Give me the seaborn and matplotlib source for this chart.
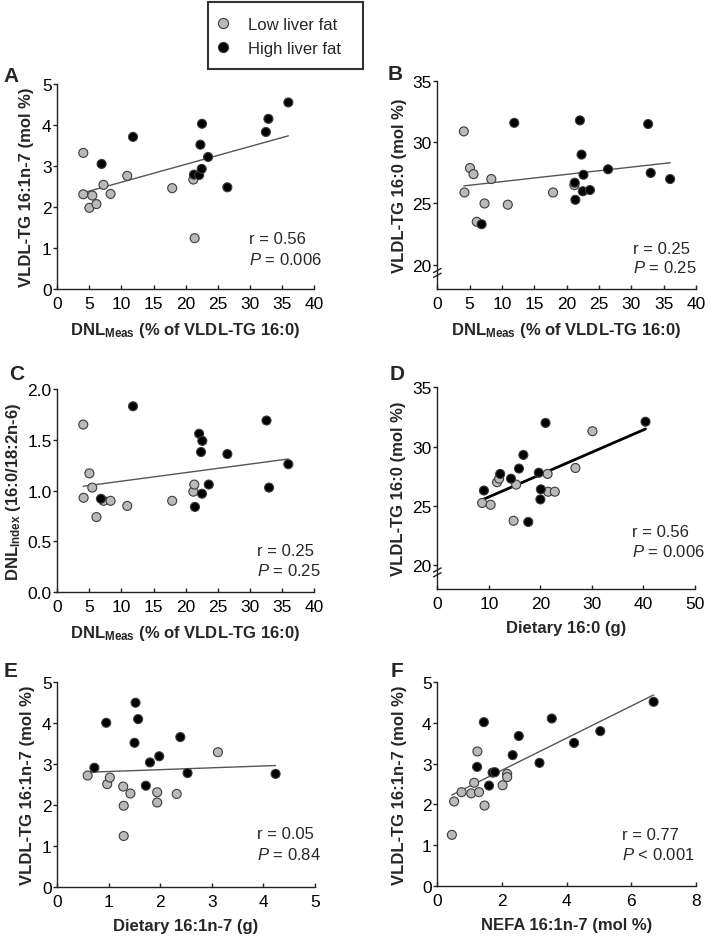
import numpy as np
import pandas as pd
import matplotlib
matplotlib.use("Agg")
import matplotlib.pyplot as plt
import seaborn as sns
from matplotlib.lines import Line2D
from matplotlib.patches import Rectangle

sns.set_theme(style="ticks")
plt.rcParams["font.family"] = ["Liberation Sans", "DejaVu Sans"]
plt.rcParams["mathtext.fontset"] = "custom"
plt.rcParams["mathtext.rm"] = "Liberation Sans"
plt.rcParams["mathtext.it"] = "Liberation Sans:italic"
plt.rcParams["mathtext.bf"] = "Liberation Sans:bold"

groups = ["Low liver fat", "High liver fat"]
colors = {"Low liver fat": "#b9b9b9", "High liver fat": "#000000"}

# ---------------- data ----------------
# Panel A: DNL_Meas vs VLDL-TG 16:1n-7
a_low_x = [4.05, 4.05, 5.45, 5.0, 6.1, 7.2, 8.3, 10.9, 17.9, 21.2, 21.4]
a_low_y = [3.32, 2.31, 2.28, 1.98, 2.07, 2.54, 2.32, 2.76, 2.46, 2.67, 1.24]
a_high_x = [6.9, 11.8, 21.3, 22.1, 22.3, 22.55, 22.5, 23.5, 26.5, 32.5, 32.9, 36.0]
a_high_y = [3.05, 3.71, 2.79, 2.78, 3.52, 4.03, 2.93, 3.22, 2.48, 3.83, 4.15, 4.55]

# Panel B: DNL_Meas vs VLDL-TG 16:0
b_low_x = [4.1, 4.2, 5.05, 5.6, 6.1, 7.3, 8.35, 10.9, 17.9, 21.2]
b_low_y = [30.9, 25.9, 27.9, 27.4, 23.5, 25.0, 27.0, 24.9, 25.9, 26.5]
b_high_x = [6.85, 11.9, 21.25, 21.35, 22.05, 22.3, 22.6, 22.5, 23.6, 26.4, 32.6, 33.0, 36.0]
b_high_y = [23.3, 31.6, 26.7, 25.3, 31.8, 29.0, 27.35, 26.0, 26.1, 27.8, 31.5, 27.5, 27.0]

# Panel C: DNL_Meas vs DNL_Index
c_low_x = [4.05, 4.1, 5.0, 5.45, 6.1, 7.2, 8.3, 10.9, 17.9, 21.2, 21.35]
c_low_y = [1.65, 0.93, 1.17, 1.03, 0.74, 0.90, 0.90, 0.85, 0.90, 0.99, 1.06]
c_high_x = [6.8, 11.8, 21.45, 22.1, 22.6, 22.4, 22.55, 23.6, 26.5, 32.6, 33.0, 36.0]
c_high_y = [0.92, 1.83, 0.84, 1.56, 1.49, 1.38, 0.97, 1.06, 1.36, 1.69, 1.03, 1.26]

# Panel D: Dietary 16:0 vs VLDL-TG 16:0
d_low_x = [8.7, 10.35, 11.6, 12.0, 15.3, 14.8, 21.4, 21.5, 22.8, 26.8, 30.1]
d_low_y = [25.25, 25.1, 27.0, 27.3, 26.8, 23.75, 27.7, 26.2, 26.2, 28.2, 31.3]
d_high_x = [9.05, 12.2, 14.3, 15.85, 16.7, 17.65, 19.7, 20.1, 20.0, 21.0, 40.4]
d_high_y = [26.3, 27.7, 27.3, 28.15, 29.3, 23.65, 27.8, 26.4, 25.55, 32.0, 32.1]

# Panel E: Dietary 16:1n-7 vs VLDL-TG 16:1n-7
e_low_x = [0.59, 0.97, 1.02, 1.28, 1.29, 1.29, 1.42, 1.94, 1.94, 2.32, 3.12]
e_low_y = [2.72, 2.51, 2.67, 2.45, 1.98, 1.24, 2.28, 2.31, 2.06, 2.27, 3.29]
e_high_x = [0.72, 0.95, 1.52, 1.57, 1.5, 1.72, 1.80, 1.98, 2.39, 2.53, 4.24]
e_high_y = [2.91, 4.01, 4.50, 4.10, 3.52, 2.47, 3.04, 3.19, 3.66, 2.78, 2.76]

# Panel F: NEFA 16:1n-7 vs VLDL-TG 16:1n-7
f_low_x = [0.45, 0.52, 0.75, 1.05, 1.14, 1.24, 1.29, 1.46, 2.02, 2.16, 2.16]
f_low_y = [1.25, 2.07, 2.30, 2.27, 2.53, 3.30, 2.30, 1.97, 2.47, 2.75, 2.67]
f_high_x = [1.23, 1.44, 1.6, 1.71, 1.78, 2.33, 2.52, 3.16, 3.54, 4.23, 5.04, 6.69]
f_high_y = [2.92, 4.02, 2.46, 2.78, 2.79, 3.21, 3.68, 3.02, 4.11, 3.51, 3.80, 4.52]

stats = {
    "A": ("r = 0.56", "$P$ = 0.006"),
    "B": ("r = 0.25", "$P$ = 0.25"),
    "C": ("r = 0.25", "$P$ = 0.25"),
    "D": ("r = 0.56", "$P$ = 0.006"),
    "E": ("r = 0.05", "$P$ = 0.84"),
    "F": ("r = 0.77", "$P$ < 0.001"),
}

xlab_meas = r"DNL$_{\mathbf{Meas}}$ (% of VLDL-TG 16:0)"
ylab_161 = "VLDL-TG 16:1n-7 (mol %)"
ylab_160 = "VLDL-TG 16:0 (mol %)"
ylab_idx = r"DNL$_{\mathbf{Index}}$ (16:0/18:2n-6)"


def frame(lx, ly, hx, hy):
    return pd.DataFrame({
        "x": list(lx) + list(hx),
        "y": list(ly) + list(hy),
        "group": [groups[0]] * len(lx) + [groups[1]] * len(hx),
    })


W, H = 711, 937
fig = plt.figure(figsize=(W / 100, H / 100), dpi=100)


def add_axes(left, right, top, bottom):
    return fig.add_axes([left / W, 1 - bottom / H, (right - left) / W, (bottom - top) / H])


panels = [
    ("A", frame(a_low_x, a_low_y, a_high_x, a_high_y), (57.3, 314, 85, 290), (0, 40), range(0, 41, 5),
     (0, 5), range(0, 6), "{:d}", xlab_meas, ylab_161, 0.747, 0.244, 0.146, 23, ("#555555", 1.0), False),
    ("B", frame(b_low_x, b_low_y, b_high_x, b_high_y), (437.3, 696, 82.3, 290), (0, 40), range(0, 41, 5),
     (18, 35), range(20, 36, 5), "{:d}", xlab_meas, ylab_160, 0.757, 0.197, 0.106, 30.6, ("#555555", 1.0), True),
    ("C", frame(c_low_x, c_low_y, c_high_x, c_high_y), (57.3, 314, 390, 593.3), (0, 40), range(0, 41, 5),
     (0, 2), [0, 0.5, 1.0, 1.5, 2.0], "{:.1f}", xlab_meas, ylab_idx, 0.777, 0.207, 0.108, 34, ("#555555", 1.0), False),
    ("D", frame(d_low_x, d_low_y, d_high_x, d_high_y), (437.3, 695, 388.3, 590), (0, 50), range(0, 51, 10),
     (18, 35), range(20, 36, 5), "{:d}", "Dietary 16:0 (g)", ylab_160, 0.757, 0.284, 0.19, 31.6, ("#000000", 2.0), True),
    ("E", frame(e_low_x, e_low_y, e_high_x, e_high_y), (57.3, 314.7, 683.3, 887.7), (0, 5), range(0, 6),
     (0, 5), range(0, 6), "{:d}", "Dietary 16:1n-7 (g)", ylab_161, 0.774, 0.259, 0.161, 22.3, ("#555555", 1.0), False),
    ("F", frame(f_low_x, f_low_y, f_high_x, f_high_y), (437.3, 696, 683.3, 886.7), (0, 8), range(0, 9, 2),
     (0, 5), range(0, 6), "{:d}", "NEFA 16:1n-7 (mol %)", ylab_161, 0.713, 0.254, 0.157, 30.6, ("#555555", 1.0), False),
]

letter_pos = {"A": (11, 76), "B": (395, 75), "C": (17, 374), "D": (397, 375), "E": (11, 672), "F": (397, 672)}

for (key, df, box, xlim, xticks, ylim, yticks, yfmt, xlabel, ylabel, tx, ry, py, yl_px, (lc, lw), brk) in panels:
    left, right, top, bottom = box
    ax = add_axes(left, right, top, bottom)
    ax_w = right - left
    ax_h = bottom - top
    sns.regplot(data=df, x="x", y="y", scatter=False, ci=None, truncate=True,
                color=lc, line_kws={"lw": lw}, ax=ax)
    sns.scatterplot(data=df, x="x", y="y", hue="group", hue_order=groups, palette=colors,
                    s=42, edgecolor="#3c3c3c", linewidth=0.8, legend=False, ax=ax, zorder=3)
    ax.set_xlim(*xlim)
    ax.set_ylim(*ylim)
    ax.set_xticks(list(xticks))
    ax.set_yticks(list(yticks))
    ax.set_yticklabels([yfmt.format(v) for v in yticks])
    sns.despine(ax=ax)
    for s in ("left", "bottom"):
        ax.spines[s].set_linewidth(1.0)
        ax.spines[s].set_color("#222222")
    ax.tick_params(axis="x", direction="in", length=3, width=1, labelsize=12.5, pad=5, colors="#222222",
                   labelcolor="black")
    ax.tick_params(axis="y", direction="out", length=3, width=1, labelsize=12.5, pad=1, colors="#222222",
                   labelcolor="black")
    ax.set_xlabel(xlabel, fontsize=12, fontweight="bold", va="top")
    ax.set_ylabel(ylabel, fontsize=12, fontweight="bold")
    ax.xaxis.set_label_coords(0.5, -31 / ax_h)
    ax.yaxis.set_label_coords(-yl_px / ax_w, 0.5)
    r_txt, p_txt = stats[key]
    ax.text(tx, ry, r_txt, transform=ax.transAxes, fontsize=12, va="center", ha="left")
    ax.text(tx, py, p_txt, transform=ax.transAxes, fontsize=12, va="center", ha="left")
    if brk:
        # two short slanted strokes across the y-axis just below the first tick
        dx = 4.2 / ax_w
        dy = 2.3 / ax_h
        c1 = (18.5 if key == "B" else 19.0) / ax_h
        c2 = (13.7 if key == "B" else 14.2) / ax_h
        for c in (c1, c2):
            ax.plot([-dx, dx], [c - dy, c + dy], transform=ax.transAxes, color="#222222",
                    lw=1.0, clip_on=False, solid_capstyle="butt")
    lx, ly = letter_pos[key]
    fig.text(lx / W, 1 - ly / H, key, fontsize=15, fontweight="bold", ha="center", va="center")

# legend
handles = [
    Line2D([], [], ls="none", marker="o", markersize=7.3, markerfacecolor=colors[g],
           markeredgecolor="#3c3c3c", markeredgewidth=0.8)
    for g in groups
]
fig.legend(handles, groups, loc="center left", bbox_to_anchor=(214.6 / W, 1 - 37.5 / H),
           frameon=False, fontsize=12, handlelength=1.0, handletextpad=1.0, labelspacing=0.5,
           borderpad=0, borderaxespad=0)
fig.patches.append(Rectangle((208 / W, 1 - 70 / H), 155 / W, 67 / H, transform=fig.transFigure,
                             fill=False, edgecolor="#333333", lw=1.5))

fig.savefig("out.png", dpi=100)
